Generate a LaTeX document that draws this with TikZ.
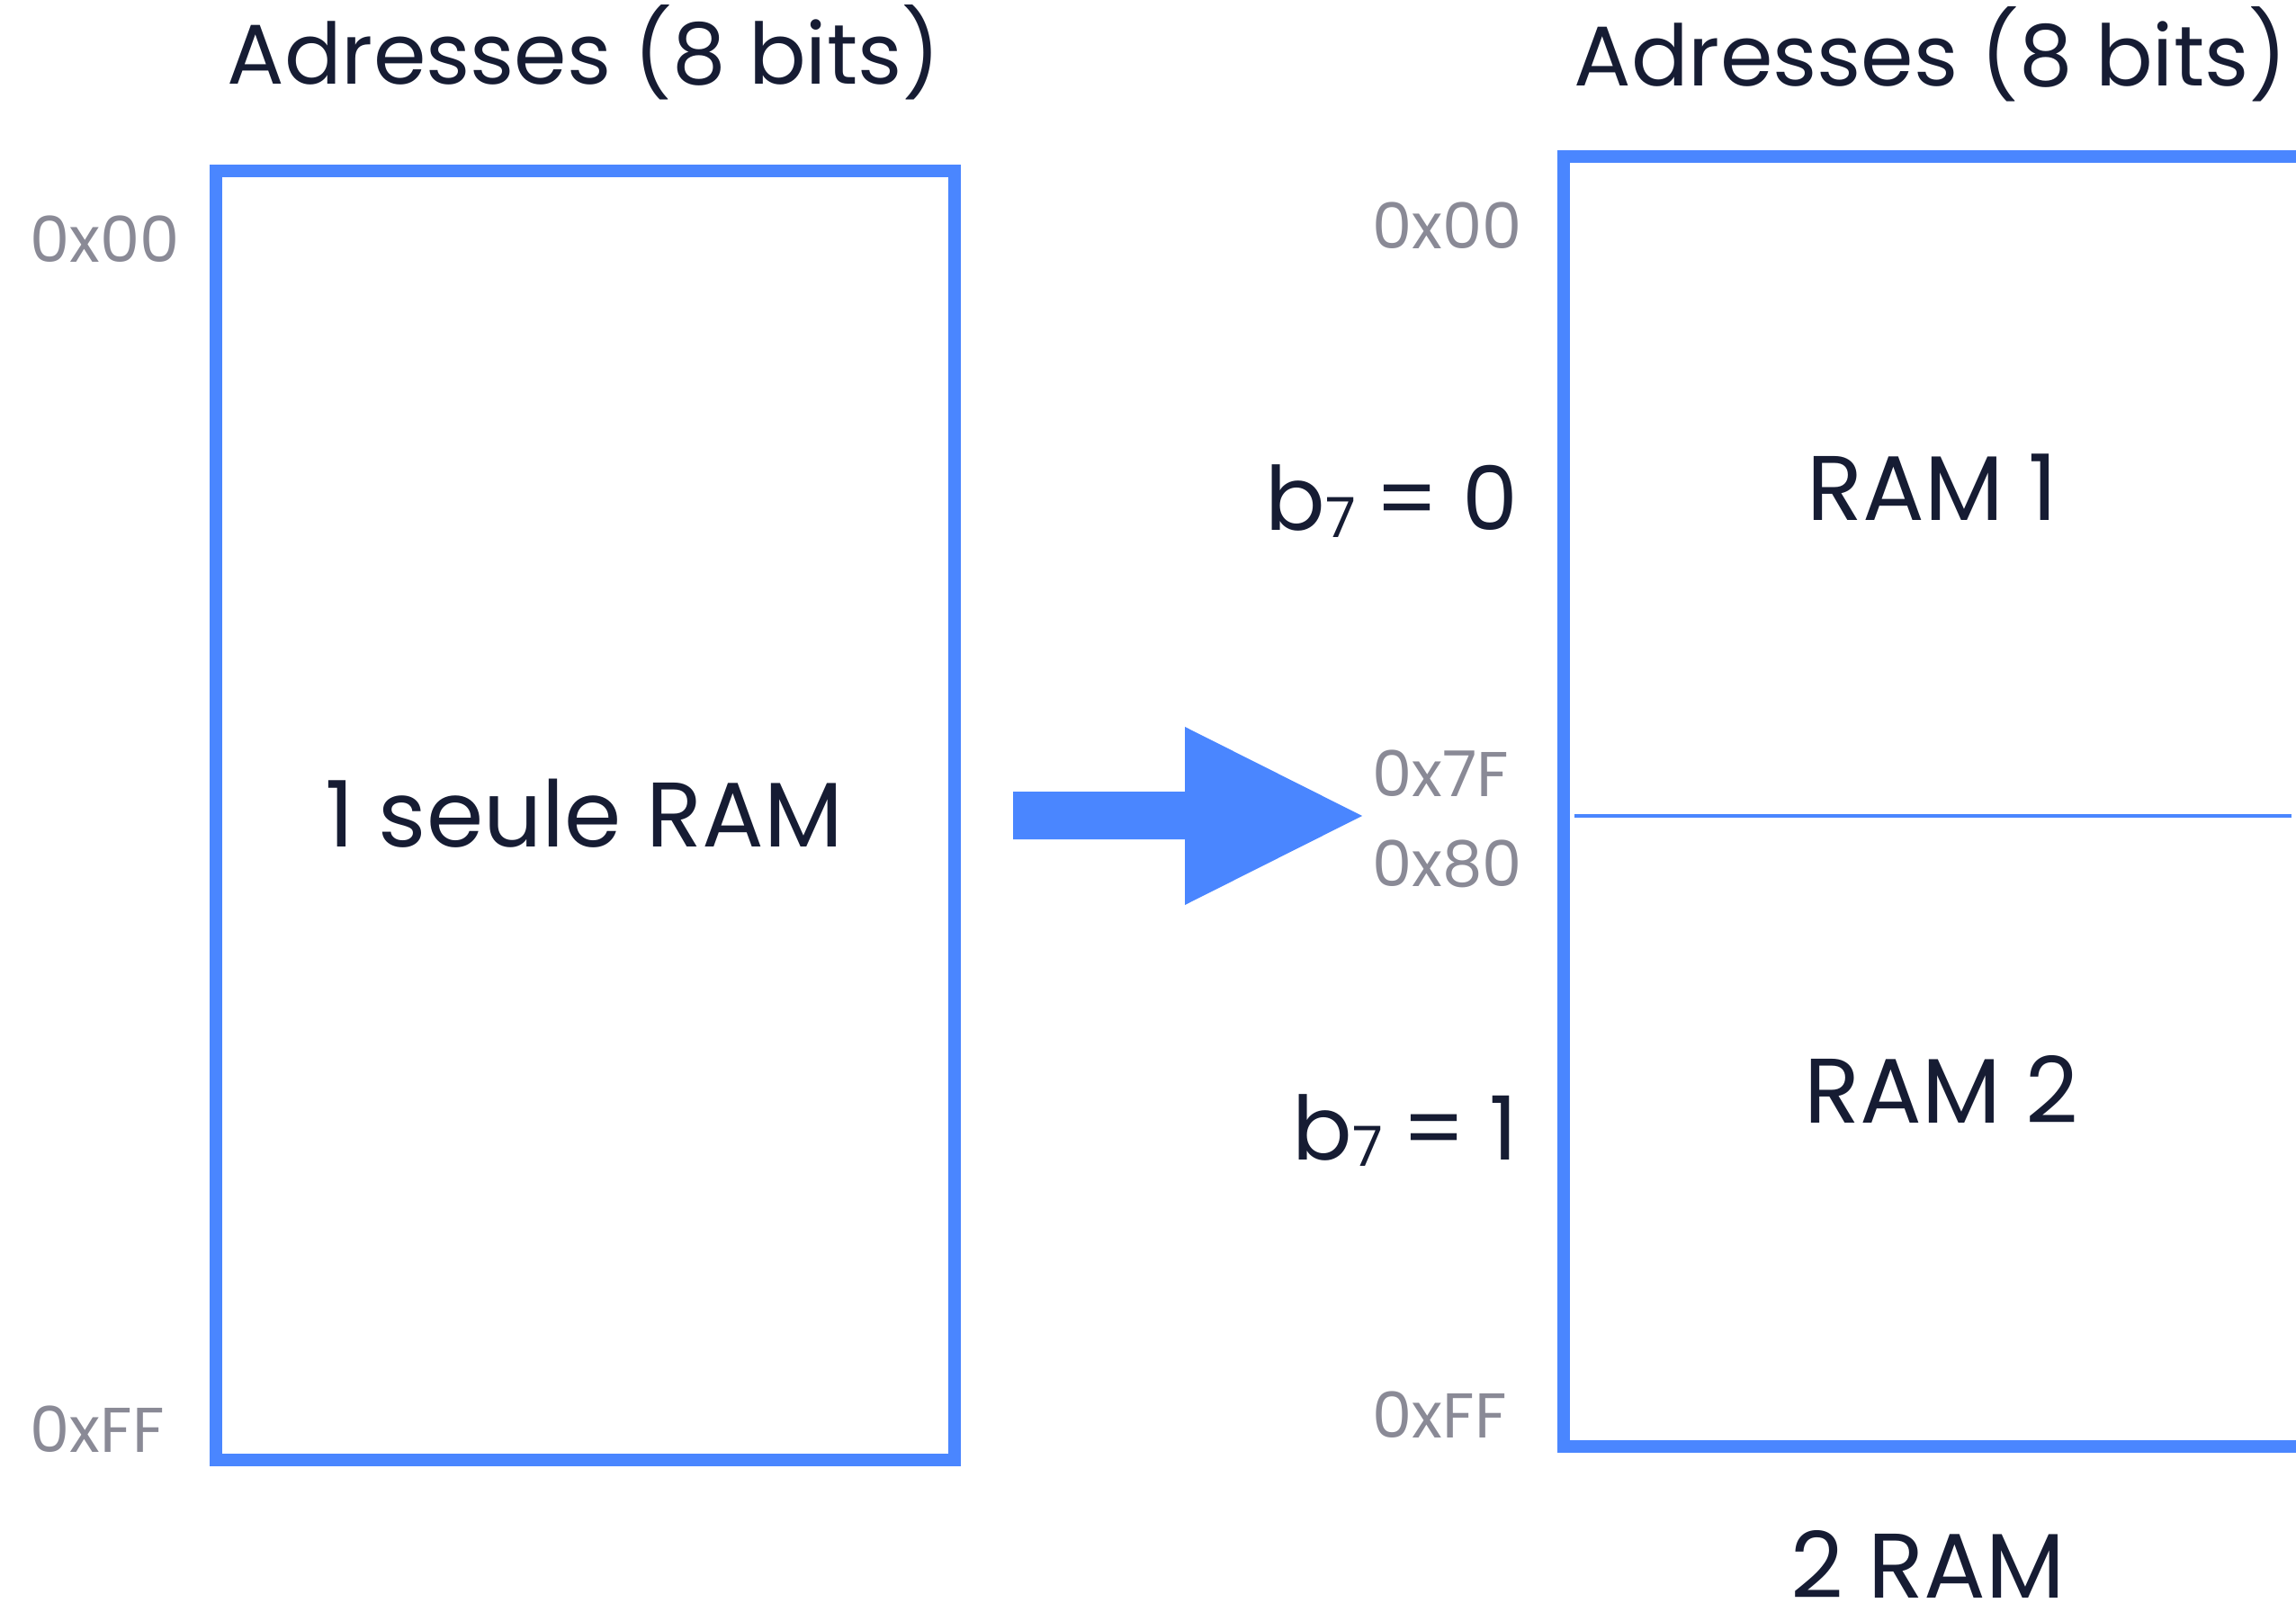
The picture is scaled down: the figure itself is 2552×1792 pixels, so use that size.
\documentclass[tikz,border=0pt]{standalone}
\usepackage{fontspec}
\setmainfont{Poppins}
\definecolor{ramblue}{HTML}{4A86FF}
\definecolor{inkdark}{HTML}{161C33}
\definecolor{addrgray}{HTML}{8A8A96}
\tikzset{
  ramframe/.style={draw=ramblue, line width=3.8pt},
  bigtxt/.style={inner sep=0pt, text=inkdark, font=\fontsize{29}{32}\selectfont},
  titletxt/.style={inner sep=0pt, text=inkdark, font=\fontsize{26.8}{30}\selectfont},
  addr/.style={inner sep=0pt, text=addrgray, font=\fontsize{20}{22}\selectfont, anchor=base west},
  bitlbl/.style={inner sep=0pt, text=inkdark, font=\fontsize{28}{31}\selectfont, anchor=base east}
}
\newcommand{\bsub}{b\raisebox{-0.08em}{\fontsize{17.5}{19}\selectfont 7}}
\begin{document}
\begin{tikzpicture}[x=0.01cm, y=-0.01cm]
\clip (0,0) rectangle (2552,1792);
\fill[white] (0,0) rectangle (2552,1792);
% left box
\draw[ramframe] (240,190) rectangle (1061,1623);
\node[titletxt, anchor=base] (t1) at (649,94) {Adresses (8 bits)};
\node[bigtxt, anchor=base] (r0) at (649,942) {1 seule RAM};
\node[addr] (a00) at (33,292) {0x00};
\node[addr] (aFF) at (33,1614) {0xFF};
% arrow
\fill[ramblue] (1126,880) -- (1317,880) -- (1317,808) -- (1514,907) -- (1317,1006) -- (1317,933) -- (1126,933) -- cycle;
% right box
\draw[ramframe] (2650,174) -- (1738,174) -- (1738,1608) -- (2650,1608);
\coordinate (dl) at (1750,907);
\coordinate (dr) at (2547,907);
\draw[ramblue, line width=0.9pt] (dl) -- (dr);
\node[titletxt, anchor=base] (t2) at (2146,96) {Adresses (8 bits)};
\node[bigtxt, anchor=base] (r1) at (2148,579) {RAM 1};
\node[bigtxt, anchor=base] (r2) at (2158,1248) {RAM 2};
\node[bigtxt, anchor=base] (r3) at (2143,1776) {2 RAM};
\node[bitlbl] (b0) at (1688,590) {\bsub{}\hspace{-0.05em} = 0};
\node[bitlbl] (b1) at (1688,1289) {\bsub{}\hspace{-0.05em} = 1};
\node[addr] (c00) at (1525,277) {0x00};
\node[addr] (c7F) at (1525,885) {0x7F};
\node[addr] (c80) at (1525,985) {0x80};
\node[addr] (cFF) at (1525,1598) {0xFF};
\end{tikzpicture}
\end{document}
